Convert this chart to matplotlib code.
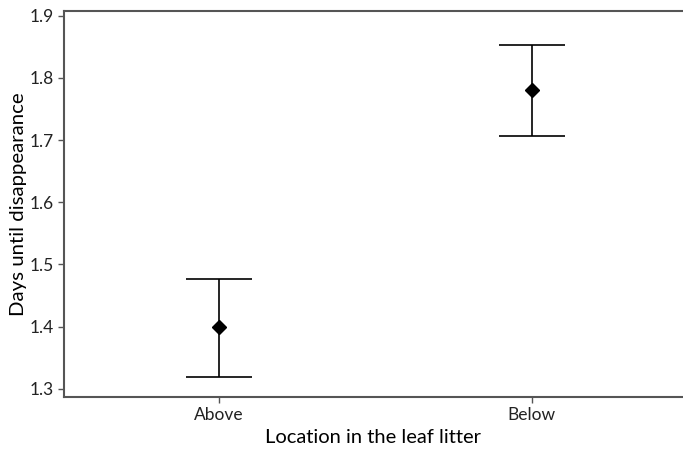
import matplotlib.pyplot as plt

plt.rcParams['font.family'] = ['Lato', 'DejaVu Sans']

# data
locations = ["Above", "Below"]
means = [1.40, 1.78]
upper = [1.476, 1.853]
lower = [1.319, 1.706]

err_low = [m - l for m, l in zip(means, lower)]
err_high = [u - m for u, m in zip(upper, means)]

fig = plt.figure(figsize=(6.83, 4.54), dpi=100)
ax = fig.add_axes([0.0937, 0.1256, 0.9063, 0.8502])

x = range(len(locations))
ax.errorbar(x, means, yerr=[err_low, err_high], fmt="D", color="black",
            markersize=7.5, elinewidth=1.2, capsize=24, capthick=1.2)

ax.set_xlim(-0.496, 1.484)
ax.set_ylim(1.287, 1.9076)
ax.set_xticks(list(x))
ax.set_xticklabels(locations)
ax.set_yticks([1.3, 1.4, 1.5, 1.6, 1.7, 1.8, 1.9])

ax.spines["right"].set_visible(False)
for s in ["left", "top", "bottom"]:
    ax.spines[s].set_color("#555555")
    ax.spines[s].set_linewidth(1.5)
ax.tick_params(axis="both", colors="#555555", length=4, width=1, labelsize=12.5, labelcolor="#222222")

ax.set_xlabel("Location in the leaf litter", fontsize=14.5, labelpad=4)
ax.set_ylabel("Days until disappearance", fontsize=14.7, labelpad=2)

plt.savefig("out.png", dpi=100)
